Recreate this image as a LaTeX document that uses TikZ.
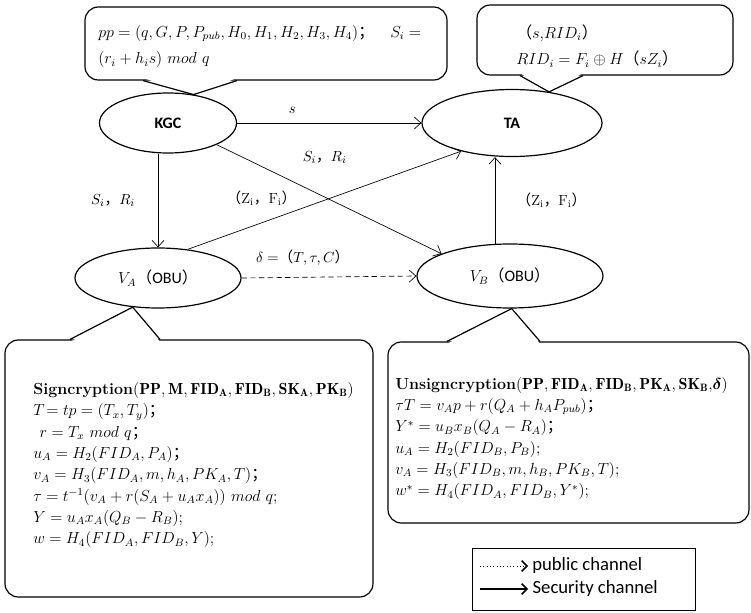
\documentclass[tikz,border=0pt]{standalone}
\usepackage{amsmath}
\usepackage{amssymb}
\usepackage{fontspec}
\setsansfont{Carlito}
\newfontfamily\cjk{Noto Sans CJK SC}
\usetikzlibrary{arrows.meta,shapes.geometric}
\newcommand{\lpz}{\text{\cjk （}}
\newcommand{\rpz}{\text{\cjk ）}}
\newcommand{\cmz}{\text{\cjk ，}}
\newcommand{\scz}{\text{\cjk ；}}
\tikzset{%
  party/.style={draw,shape=ellipse,line width=0.9pt,inner sep=0},
  callbox/.style={draw,line width=0.9pt,rounded corners=10pt},
  tail/.style={draw,line width=0.9pt},
  calltext/.style={align=left,anchor=west,inner sep=0,font=\fontsize{12}{16}\selectfont},
  flow/.style={->,line width=0.5pt},
  lbl/.style={inner sep=1pt,font=\fontsize{11}{13}\selectfont},
  keyarrow/.style={-{Straight Barb[length=4pt,width=8pt,line width=1.1pt]}},
  keytext/.style={right,inner sep=3pt,font=\sffamily\fontsize{14}{16}\selectfont}
}

\begin{document}
\begin{tikzpicture}[x=0.75pt,y=-0.75pt,>={Straight Barb[length=5pt,width=9pt]}]
  \useasboundingbox (0,0) rectangle (751,613);
  % parties
  \node[party,minimum width=102.75pt,minimum height=45pt] (kgc) at (168,123)
    {\sffamily\bfseries\fontsize{12}{14}\selectfont KGC};
  \node[party,minimum width=135pt,minimum height=50.25pt] (ta) at (512,123)
    {\sffamily\bfseries\fontsize{12}{14}\selectfont TA};
  \node[party,minimum width=124.5pt,minimum height=45pt] (va) at (158,278)
    {\fontsize{12}{14}\selectfont$V_A$\lpz{\sffamily OBU}\rpz};
  \node[party,minimum width=139.5pt,minimum height=48pt] (vb) at (510,276)
    {\fontsize{12}{14}\selectfont$V_B$\lpz{\sffamily OBU}\rpz};

  % callout boxes
  \node[callbox,minimum width=271.5pt,minimum height=54.75pt] (ppbox) at (266,43.5) {};
  \node[callbox,minimum width=192pt,minimum height=52.5pt] (ridbox) at (605,40) {};
  \node[callbox,minimum width=276pt,minimum height=192.75pt] (sigbox) at (189,468.5) {};
  \node[callbox,minimum width=270.75pt,minimum height=135.75pt] (unsbox) at (568.5,432.5) {};

  % pointers
  \fill[white] (143,78) -- (kgc.48) -- (237,78) -- cycle;
  \draw[tail] (143,0 |- ppbox.south) -- (kgc.48) -- (237,0 |- ppbox.south);
  \fill[white] (520,73) -- (ta.40) -- (583,73) -- cycle;
  \draw[tail] (520,0 |- ridbox.south) -- (ta.40) -- (583,0 |- ridbox.south);
  \fill[white] (70,342) -- (va.229) -- (160,342) -- cycle;
  \draw[tail] (70,0 |- sigbox.north) -- (va.229) -- (160,0 |- sigbox.north);
  \fill[white] (447,344) -- (vb.-87) -- (540,344) -- cycle;
  \draw[tail] (447,0 |- unsbox.north) -- (vb.-87) -- (540,0 |- unsbox.north);

  % texts
  \node[calltext,font=\fontsize{12}{20}\selectfont] (pptext) at (98,46.5)
    {$pp=(q,G,P,P_{pub},H_0,H_1,H_2,H_3,H_4)$\scz\quad$S_i=$\\
     $(r_i+h_is)\ mod\ q$};
  \node[calltext,font=\fontsize{12}{20}\selectfont] (ridtext) at (516,46)
    {\lpz$s$,$RID_i$\rpz\\
     $RID_i=F_i\oplus H$\lpz$sZ_i$\rpz};
  \node[calltext] (sigtext) at (33,465)
    {\textbf{Signcryption}$\mathbf{(PP,M,FID_A,FID_B,SK_A,PK_B)}$\\
     $T\!=tp=(T_x,T_y)$\scz\\
     \hspace{0.4em}$r=T_x\ mod\ q$\scz\\
     $u_A=H_2(FID_A,P_A)$\scz\\
     $v_A=H_3(FID_A,m,h_A,PK_A,T)$\scz\\
     $\tau=t^{-1}(v_A+r(S_A+u_Ax_A))\ mod\ q$;\\
     $Y=u_Ax_A(Q_B-R_B)$;\\
     $w=H_4(FID_A,FID_B,Y)$;};
  \node[calltext] (unstext) at (395,438.5)
    {\textbf{Unsigncryption}$\mathbf{(PP,FID_A,FID_B,PK_A,SK_B,}\boldsymbol{\delta}\mathbf{)}$\\
     $\tau T=v_Ap+r(Q_A+h_AP_{pub})$\scz\\
     $Y^*=u_Bx_B(Q_A-R_A)$\scz\\
     $u_A=H_2(FID_B,P_B)$;\\
     $v_A=H_3(FID_B,m,h_B,PK_B,T)$;\\
     $w^*=H_4(FID_A,FID_B,Y^*)$;};

  % channels
  \draw[flow] (kgc) -- node[lbl,pos=0.3,above=6pt]{$s$} (ta);
  \draw[flow] (va.north |- kgc.south) -- node[lbl,left=16pt]{$S_i\cmz R_i$} (va.north);
  \draw[flow] (kgc.-24) -- node[lbl,pos=0.48,above=24pt]{$S_i\cmz R_i$} (vb.162);
  \draw[flow] (va.44) -- node[lbl,pos=0.27,above=12pt]{\lpz$\mathrm{Z_i}$\cmz$\mathrm{F_i}$\rpz} (ta.-151);
  \draw[flow] (vb.115) -- node[lbl,right=15pt]{\lpz$\mathrm{Z_i}$\cmz$\mathrm{F_i}$\rpz} (vb.115 |- ta.south);
  \draw[flow,dash pattern=on 4pt off 2.5pt] (va.east) -- node[lbl,pos=0.35,above=8pt]{$\delta=$\lpz$T,\tau,C$\rpz} (vb.west);

  % legend
  \node[draw,line width=0.6pt,minimum width=167.25pt,minimum height=46.5pt] (legend) at (583.5,579) {};
  \coordinate (pubA) at (480,566);
  \coordinate (pubB) at (528,566);
  \coordinate (secA) at (480,589);
  \coordinate (secB) at (528,589);
  \draw[keyarrow,dotted,line width=0.5pt] (pubA) -- (pubB) node[keytext]{public channel};
  \draw[keyarrow,line width=1pt] (secA) -- (secB) node[keytext]{Security channel};
\end{tikzpicture}
\end{document}
